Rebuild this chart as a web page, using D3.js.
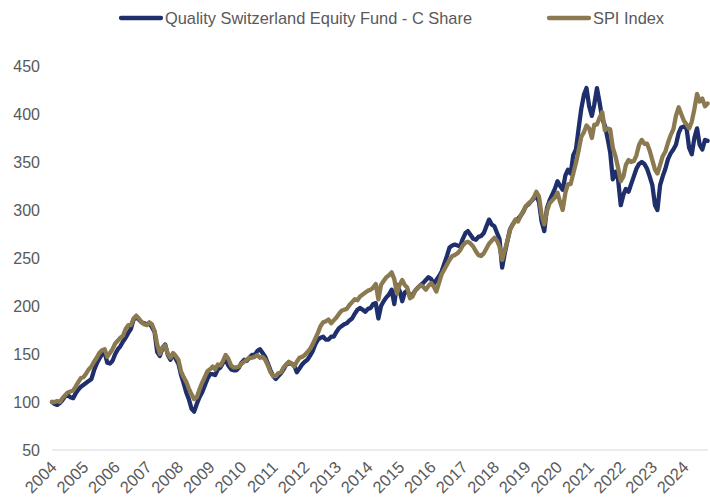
<!DOCTYPE html>
<html><head><meta charset="utf-8">
<script src="https://cdn.jsdelivr.net/npm/d3@7"></script>
<style>body{margin:0;background:#fff}svg{display:block;font-family:"Liberation Sans",Arial,sans-serif}</style>
</head><body><svg id="c" width="710" height="501"></svg>
<script>
const seriesNames = ["Quality Switzerland Equity Fund - C Share", "SPI Index"];
const startMonth = "2004-01";
const yearLabels = ["2004","2005","2006","2007","2008","2009","2010","2011","2012","2013","2014","2015","2016","2017","2018","2019","2020","2021","2022","2023","2024"];
const yTicks = [50,100,150,200,250,300,350,400,450];
const fund = [100,98,97,99,102,106,107,105,104,109,113,116,118,120,122,124,133,140,145,150,
151,141,140,143,150,155,158,163,167,172,176,186,188,186,183,182,181,182,178,173,
152,148,156,160,149,144,150,145,140,128,120,110,103,93,90,98,105,110,117,124,
129,129,128,134,136,141,144,138,134,133,133,136,141,144,143,146,149,149,153,155,
151,147,140,133,127,124,127,130,134,139,140,140,138,131,135,139,142,144,148,153,
160,165,167,168,165,165,168,168,173,177,179,181,182,185,187,192,196,198,196,194,
197,198,202,203,187,200,205,209,212,217,202,222,216,205,214,216,210,212,216,219,
222,224,227,230,228,223,227,231,236,244,252,261,263,264,263,262,270,276,278,274,
270,269,272,273,276,283,290,285,283,276,270,240,255,268,280,285,289,291,294,298,
304,306,309,312,316,308,288,278,302,310,316,322,330,325,321,336,342,338,357,363,
385,405,420,427,408,398,410,427,412,395,388,375,360,332,340,332,305,316,322,319,
327,335,343,348,350,348,343,335,326,305,300,326,335,343,353,359,363,368,380,386,
387,385,365,358,375,385,368,363,373,372];
const spi = [100,100,101,100,104,107,110,111,112,116,121,125,126,130,134,137,142,146,151,154,
155,147,151,155,161,164,167,169,176,180,180,187,190,187,183,181,180,183,181,174,
160,150,157,159,150,146,151,148,144,132,126,121,114,108,103,105,113,120,126,132,
134,137,134,139,138,143,149,145,138,136,136,137,140,142,144,146,146,147,149,146,
147,144,138,131,127,127,130,131,136,139,142,140,137,142,146,147,149,152,155,160,
166,172,179,183,184,186,182,185,188,192,195,196,197,201,204,207,206,210,212,214,
216,217,219,223,207,222,226,230,232,235,228,213,222,227,222,219,208,210,216,219,
222,220,217,221,224,220,215,224,233,238,243,248,252,253,255,258,263,266,267,265,
262,257,253,252,255,260,265,268,271,268,262,248,258,268,279,285,290,288,294,299,
304,307,309,313,319,314,295,285,299,307,310,313,318,308,300,318,327,327,338,349,
362,376,381,388,385,375,389,389,396,402,383,385,384,365,356,344,330,335,347,352,
350,351,357,368,373,369,369,362,352,342,338,347,356,361,370,378,384,398,407,400,
393,389,385,392,405,421,413,416,408,411];
const colors = ["#1f2f6b", "#8b7a50"];

const svg = d3.select("#c");
const t0 = d3.timeParse("%Y-%m")(startMonth);
const dates = fund.map((_, i) => d3.timeMonth.offset(t0, i));
const x = d3.scaleTime().domain([dates[0], dates[dates.length - 1]]).range([52, 707.6]);
const y = d3.scaleLinear().domain([50, 450]).range([450, 66]);

// baseline
svg.append("line").attr("x1", 52).attr("x2", 708).attr("y1", y(50)).attr("y2", y(50))
  .attr("stroke", "#d9d9d9").attr("stroke-width", 1);

// y axis
const yAxis = svg.append("g").attr("transform", "translate(40,0)")
  .call(d3.axisLeft(y).tickValues(yTicks).tickSize(0).tickPadding(0));
yAxis.select(".domain").remove();
yAxis.selectAll("text").attr("fill", "#595959").style("font-size", "16px")
  .style("font-family", '"Liberation Sans",Arial,sans-serif');

// x axis labels
const yearDates = yearLabels.map(s => d3.timeParse("%Y")(s));
const xAxis = svg.append("g").attr("transform", `translate(-3,${y(50) + 10})`)
  .call(d3.axisBottom(x).tickValues(yearDates).tickSize(0).tickFormat((d, i) => yearLabels[i]));
xAxis.select(".domain").remove();
xAxis.selectAll("text").attr("fill", "#595959").style("font-size", "16.5px")
  .style("font-family", '"Liberation Sans",Arial,sans-serif')
  .attr("text-anchor", "end").attr("dy", "0.35em").attr("y", 0)
  .attr("transform", "rotate(-45) translate(0,6)");

// lines
const line = d3.line().x((d, i) => x(dates[i])).y(d => y(d));
[fund, spi].forEach((s, k) => {
  svg.append("path").datum(s).attr("d", line).attr("fill", "none")
    .attr("stroke", colors[k]).attr("stroke-width", 4.3)
    .attr("stroke-linejoin", "round").attr("stroke-linecap", "round");
});

// legend
const leg = [{x: 121, tx: 165}, {x: 549, tx: 593}];
leg.forEach((l, k) => {
  svg.append("line").attr("x1", l.x).attr("x2", l.x + 40).attr("y1", 18).attr("y2", 18)
    .attr("stroke", colors[k]).attr("stroke-width", 4.3).attr("stroke-linecap", "round");
  svg.append("text").attr("x", l.tx).attr("y", 18).attr("dy", "0.35em")
    .attr("fill", "#595959").style("font-size", "16.4px").text(seriesNames[k]);
});
</script></body></html>
